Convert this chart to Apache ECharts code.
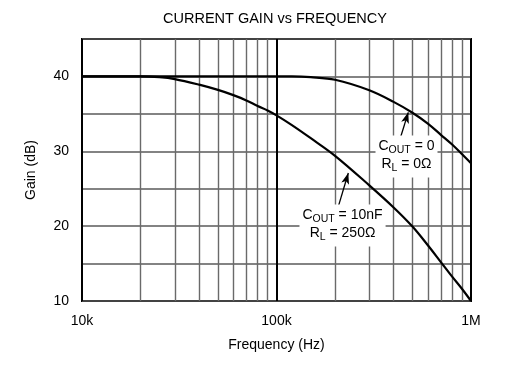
<!DOCTYPE html>
<html>
<head>
<meta charset="utf-8">
<script src="https://cdn.jsdelivr.net/npm/echarts@6/dist/echarts.min.js"></script>
<style>
html,body{margin:0;padding:0;background:#fff;}
#chart{width:505px;height:367px;}
</style>
</head>
<body>
<div id="chart"></div>
<script>
// ---- data ----
var title = 'CURRENT GAIN vs FREQUENCY';
var xName = 'Frequency (Hz)';
var yName = 'Gain (dB)';
var xTickValues = [10000, 100000, 1000000];
var xTickLabels = ['10k', '100k', '1M'];
var yTickLabels = [10, 20, 30, 40];
var minorFreqs = [20000, 30000, 40000, 50000, 60000, 70000, 80000, 90000,
                  200000, 300000, 400000, 500000, 600000, 700000, 800000, 900000];

// Curve: C_OUT = 0, R_L = 0 ohm
var freqA = [10000, 50000, 100000, 120000, 150000, 200000, 300000, 400000, 500000, 600000, 700000, 800000, 900000, 1000000];
var gainA = [40, 40, 40, 40, 39.9, 39.55, 38.15, 36.6, 35.15, 33.7, 32.2, 30.9, 29.6, 28.4];

// Curve: C_OUT = 10nF, R_L = 250 ohm
var freqB = [10000, 15000, 20000, 25000, 30000, 40000, 50000, 60000, 70000, 80000, 90000, 100000, 120000, 150000, 200000, 300000, 400000, 500000, 600000, 700000, 800000, 900000, 1000000];
var gainB = [40, 40, 40, 39.9, 39.65, 38.9, 38.2, 37.5, 36.8, 36.05, 35.45, 34.8, 33.5, 31.75, 29.4, 25.45, 22.5, 19.95, 17.45, 15.2, 13.25, 11.6, 10.0];

// annotations (data coordinates)
var noteA = {text: '{m|C}{s|OUT}{m| = 0}\n{m|R}{s|L}{m| = 0Ω}', at: [466000, 29.3],
             arrowFrom: [435000, 31.95], arrowTo: [476000, 35.2]};
var noteB = {text: '{m|C}{s|OUT}{m| = 10nF}\n{m|R}{s|L}{m| = 250Ω}', at: [218500, 20.1],
             arrowFrom: [207800, 22.6], arrowTo: [234000, 27.1]};

// ---- chart ----
var FONT = '"Liberation Sans", Arial, sans-serif';
function pairs(xs, ys) { return xs.map(function (x, i) { return [x, ys[i]]; }); }
var richStyles = {
  m: {fontSize: 14, fontFamily: FONT, color: '#000', lineHeight: 18},
  s: {fontSize: 10.5, fontFamily: FONT, color: '#000', lineHeight: 10, padding: [8, 0, 0, 0]}
};
function noteSeries(n) {
  return {
    type: 'line', data: [], z: 5, silent: true,
    markPoint: {
      symbol: 'rect', symbolSize: 0, silent: true,
      data: [{coord: n.at}],
      label: {show: true, position: 'inside', formatter: n.text, rich: richStyles,
              backgroundColor: '#fff', padding: [2, 3, 4, 3], align: 'center'}
    },
    markLine: {
      silent: true, symbol: ['none', 'arrow'], symbolSize: [6, 11],
      label: {show: false},
      lineStyle: {color: '#000', width: 1.3, type: 'solid'},
      data: [[{coord: n.arrowFrom}, {coord: n.arrowTo}]]
    }
  };
}

var chart = echarts.init(document.getElementById('chart'), null, {renderer: 'canvas'});
chart.setOption({
  animation: false,
  backgroundColor: '#fff',
  title: {
    text: title, left: 163, top: 11, padding: 0,
    textStyle: {fontSize: 14.5, fontWeight: 'normal', color: '#000', fontFamily: FONT}
  },
  grid: {left: 82, top: 39, width: 389, height: 262, show: true,
         borderColor: '#000', borderWidth: 2, backgroundColor: 'transparent'},
  xAxis: {
    type: 'log', logBase: 10, min: 10000, max: 1000000,
    name: xName, nameLocation: 'middle', nameGap: 37,
    nameTextStyle: {fontSize: 14, color: '#000', fontFamily: FONT},
    axisLine: {show: false}, axisTick: {show: false},
    axisLabel: {fontSize: 14, color: '#000', fontFamily: FONT, margin: 13,
      formatter: function (v) { var i = xTickValues.indexOf(Math.round(v)); return i >= 0 ? xTickLabels[i] : ''; }},
    splitLine: {show: true, lineStyle: {color: '#000', width: 2}}
  },
  yAxis: {
    type: 'value', min: 10, max: 45, interval: 5,
    name: yName, nameLocation: 'middle', nameGap: 44,
    nameTextStyle: {fontSize: 14, color: '#000', fontFamily: FONT},
    axisLine: {show: false}, axisTick: {show: false},
    axisLabel: {fontSize: 14, color: '#000', fontFamily: FONT, margin: 13,
      formatter: function (v) { return yTickLabels.indexOf(v) >= 0 ? String(v) : ''; }},
    splitLine: {show: true, lineStyle: {color: '#5a5a5a', width: 1.5}}
  },
  series: [
    {
      type: 'line', data: [], z: 1, silent: true,
      markLine: {
        silent: true, symbol: ['none', 'none'], label: {show: false},
        lineStyle: {color: '#6a6a6a', width: 1.4, type: 'solid'},
        data: minorFreqs.map(function (f) { return {xAxis: f}; })
      }
    },
    noteSeries(noteA),
    noteSeries(noteB),
    {
      type: 'line', name: 'COUT=0', data: pairs(freqA, gainA), z: 10,
      showSymbol: false, smooth: 0.35,
      lineStyle: {color: '#000', width: 2.2}
    },
    {
      type: 'line', name: 'COUT=10nF', data: pairs(freqB, gainB), z: 10,
      showSymbol: false, smooth: 0.35,
      lineStyle: {color: '#000', width: 2.2}
    }
  ]
});
</script>
</body>
</html>
